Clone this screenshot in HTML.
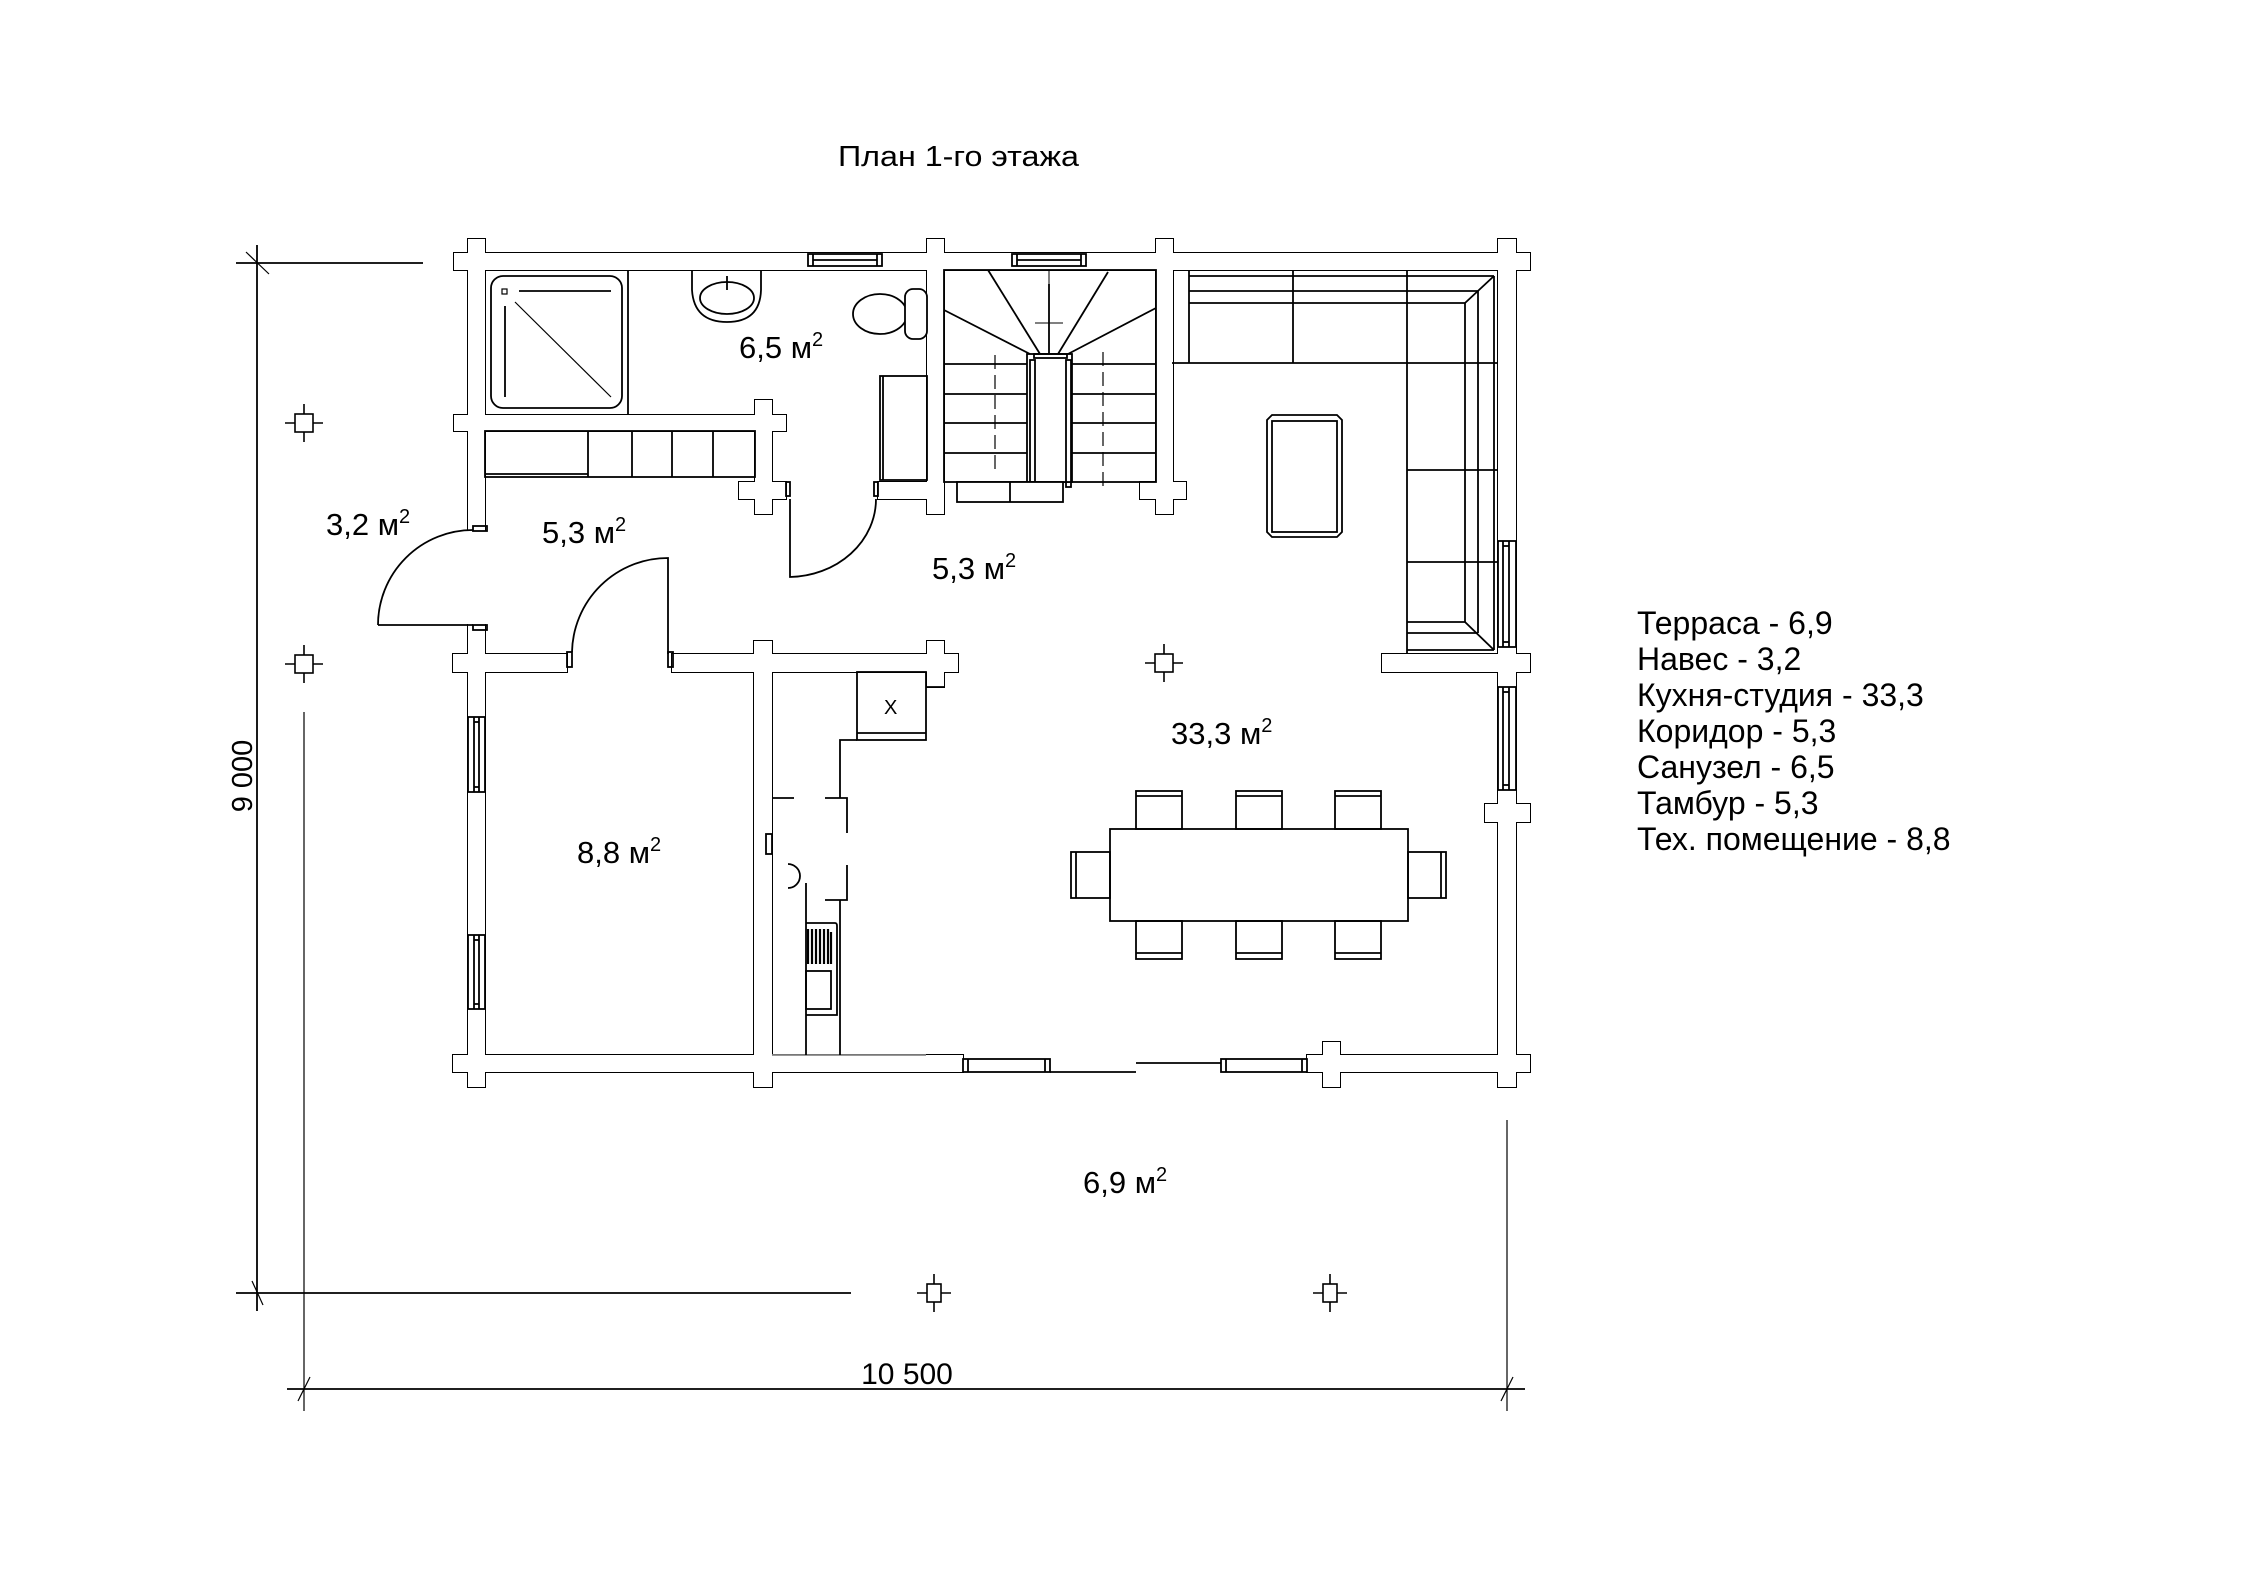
<!DOCTYPE html>
<html><head><meta charset="utf-8"><style>
html,body{margin:0;padding:0;background:#fff;}
svg{display:block;}
text{font-family:"Liberation Sans",sans-serif;fill:#000;}
</style></head><body>
<svg width="2245" height="1587" viewBox="0 0 2245 1587" xmlns="http://www.w3.org/2000/svg">
<rect width="2245" height="1587" fill="#fff"/>
<g id="walls">
<g fill="none" stroke="#000" stroke-width="2">
<rect x="454" y="253" width="1076" height="17"/>
<rect x="468" y="239" width="17" height="848"/>
<rect x="927" y="239" width="17" height="275"/>
<rect x="1156" y="239" width="17" height="275"/>
<rect x="1498" y="239" width="18" height="848"/>
<rect x="454" y="415" width="332" height="16"/>
<rect x="755" y="400" width="17" height="114"/>
<rect x="739" y="482" width="47" height="17"/>
<rect x="878" y="482" width="66" height="17"/>
<rect x="1140" y="482" width="46" height="17"/>
<rect x="453" y="654" width="114" height="18"/>
<rect x="672" y="654" width="286" height="18"/>
<rect x="754" y="641" width="18" height="446"/>
<rect x="927" y="641" width="17" height="46"/>
<rect x="1382" y="654" width="148" height="18"/>
<rect x="1485" y="804" width="45" height="18"/>
<rect x="453" y="1055" width="510" height="17"/>
<rect x="1307" y="1055" width="223" height="17"/>
<rect x="1323" y="1042" width="17" height="45"/>
</g>
<g fill="#fff" stroke="none">
<rect x="454" y="253" width="1076" height="17"/>
<rect x="468" y="239" width="17" height="848"/>
<rect x="927" y="239" width="17" height="275"/>
<rect x="1156" y="239" width="17" height="275"/>
<rect x="1498" y="239" width="18" height="848"/>
<rect x="454" y="415" width="332" height="16"/>
<rect x="755" y="400" width="17" height="114"/>
<rect x="739" y="482" width="47" height="17"/>
<rect x="878" y="482" width="66" height="17"/>
<rect x="1140" y="482" width="46" height="17"/>
<rect x="453" y="654" width="114" height="18"/>
<rect x="672" y="654" width="286" height="18"/>
<rect x="754" y="641" width="18" height="446"/>
<rect x="927" y="641" width="17" height="46"/>
<rect x="1382" y="654" width="148" height="18"/>
<rect x="1485" y="804" width="45" height="18"/>
<rect x="453" y="1055" width="510" height="17"/>
<rect x="1307" y="1055" width="223" height="17"/>
<rect x="1323" y="1042" width="17" height="45"/>
</g>
</g>
<g fill="none" stroke="#000" stroke-width="1.8">
<rect x="466" y="531" width="22" height="93" fill="#fff" stroke="none"/>
<line x1="468" y1="531" x2="468" y2="624" stroke="#fff" stroke-width="4"/>
<rect x="473" y="526" width="14" height="5"/>
<rect x="473" y="625" width="14" height="5"/>
<path d="M378,625 L473,625 M378,625 A95,95 0 0 1 473,530"/>
<rect x="567" y="652" width="5" height="15"/>
<rect x="668" y="652" width="5" height="15"/>
<path d="M668,654 L668,558 A96,96 0 0 0 572,652"/>
<rect x="786" y="482" width="4" height="14"/>
<rect x="874" y="482" width="4" height="14"/>
<path d="M790,499 L790,577 A88,78 0 0 0 876,499"/>
<rect x="808" y="254" width="74" height="12" fill="#fff"/>
<line x1="813" y1="254" x2="813" y2="266"/><line x1="877" y1="254" x2="877" y2="266"/><line x1="813" y1="260" x2="877" y2="260"/>
<rect x="1012" y="254" width="74" height="12" fill="#fff"/>
<line x1="1017" y1="254" x2="1017" y2="266"/><line x1="1081" y1="254" x2="1081" y2="266"/><line x1="1017" y1="260" x2="1081" y2="260"/>
<rect x="468" y="717" width="17" height="75" fill="#fff"/>
<line x1="474" y1="717" x2="474" y2="792"/><line x1="479" y1="717" x2="479" y2="792"/>
<line x1="474" y1="722" x2="479" y2="722"/><line x1="474" y1="787" x2="479" y2="787"/>
<rect x="468" y="935" width="17" height="74" fill="#fff"/>
<line x1="474" y1="935" x2="474" y2="1009"/><line x1="479" y1="935" x2="479" y2="1009"/>
<line x1="474" y1="940" x2="479" y2="940"/><line x1="474" y1="1004" x2="479" y2="1004"/>
<rect x="1498" y="541" width="18" height="106" fill="#fff"/>
<line x1="1503" y1="541" x2="1503" y2="647"/><line x1="1509" y1="541" x2="1509" y2="647"/>
<line x1="1503" y1="546" x2="1509" y2="546"/><line x1="1503" y1="642" x2="1509" y2="642"/>
<rect x="1498" y="687" width="18" height="103" fill="#fff"/>
<line x1="1503" y1="687" x2="1503" y2="790"/><line x1="1509" y1="687" x2="1509" y2="790"/>
<line x1="1503" y1="692" x2="1509" y2="692"/><line x1="1503" y1="785" x2="1509" y2="785"/>
<rect x="963" y="1059" width="87" height="13" fill="#fff"/>
<line x1="968" y1="1059" x2="968" y2="1072"/><line x1="1045" y1="1059" x2="1045" y2="1072"/>
<line x1="1050" y1="1072" x2="1136" y2="1072"/>
<line x1="1136" y1="1063" x2="1221" y2="1063"/>
<rect x="1221" y="1059" width="86" height="13" fill="#fff"/>
<line x1="1226" y1="1059" x2="1226" y2="1072"/><line x1="1302" y1="1059" x2="1302" y2="1072"/>
<line x1="772" y1="1055" x2="926" y2="1055" stroke="#888"/>
<line x1="628" y1="270" x2="628" y2="415"/>
<rect x="491" y="276" width="131" height="132" rx="12"/>
<rect x="502" y="289" width="5" height="5" stroke-width="1.2"/>
<line x1="519" y1="291" x2="611" y2="291"/>
<line x1="505" y1="306" x2="505" y2="397"/>
<line x1="515" y1="302" x2="611" y2="397" stroke-width="1.2"/>
<path d="M692,270 L692,290 Q694,322 727,322 Q760,322 761,290 L761,270"/>
<ellipse cx="727" cy="298" rx="27" ry="16"/>
<line x1="727" y1="276" x2="727" y2="290"/>
<ellipse cx="880" cy="314" rx="27" ry="20"/>
<rect x="905" y="289" width="22" height="50" rx="8" fill="#fff"/>
<rect x="880" y="376" width="47" height="104"/>
<line x1="883" y1="376" x2="883" y2="480"/>
<rect x="485" y="431" width="270" height="46"/>
<line x1="588" y1="431" x2="588" y2="477"/><line x1="632" y1="431" x2="632" y2="477"/>
<line x1="672" y1="431" x2="672" y2="477"/><line x1="713" y1="431" x2="713" y2="477"/>
<line x1="485" y1="474" x2="588" y2="474"/>
<rect x="944" y="270" width="212" height="212"/>
<line x1="944" y1="364" x2="1027" y2="364"/><line x1="944" y1="394" x2="1027" y2="394"/>
<line x1="944" y1="423" x2="1027" y2="423"/><line x1="944" y1="453" x2="1027" y2="453"/>
<line x1="1072" y1="364" x2="1156" y2="364"/><line x1="1072" y1="394" x2="1156" y2="394"/>
<line x1="1072" y1="423" x2="1156" y2="423"/><line x1="1072" y1="453" x2="1156" y2="453"/>
<rect x="1027" y="354" width="45" height="128" fill="#fff"/>
<rect x="1030" y="360" width="5" height="122"/>
<rect x="1066" y="360" width="5" height="127"/>
<rect x="1034" y="354" width="33" height="4"/>
<line x1="1030" y1="354" x2="944" y2="310"/>
<line x1="1040" y1="354" x2="988" y2="270"/>
<line x1="1049" y1="354" x2="1049" y2="284"/>
<line x1="1058" y1="354" x2="1108" y2="272"/>
<line x1="1068" y1="354" x2="1156" y2="308"/>
<line x1="1049" y1="270" x2="1049" y2="354" stroke-width="1"/>
<line x1="1035" y1="323" x2="1063" y2="323" stroke-width="1"/>
<line x1="995" y1="355" x2="995" y2="470" stroke-dasharray="14,6" stroke-width="1.2"/>
<line x1="1103" y1="352" x2="1103" y2="490" stroke-dasharray="14,6" stroke-width="1.2"/>
<rect x="957" y="482" width="106" height="20" fill="#fff"/>
<line x1="1010" y1="482" x2="1010" y2="502"/>
<line x1="1189" y1="270" x2="1189" y2="363"/>
<line x1="1189" y1="276" x2="1494" y2="276"/>
<line x1="1189" y1="291" x2="1478" y2="291"/>
<line x1="1189" y1="303" x2="1465" y2="303"/>
<line x1="1172" y1="363" x2="1498" y2="363"/>
<line x1="1293" y1="270" x2="1293" y2="363"/>
<line x1="1407" y1="270" x2="1407" y2="654"/>
<line x1="1465" y1="303" x2="1465" y2="622"/>
<line x1="1478" y1="291" x2="1478" y2="633"/>
<line x1="1494" y1="276" x2="1494" y2="650"/>
<line x1="1465" y1="303" x2="1494" y2="276"/>
<line x1="1465" y1="622" x2="1494" y2="650"/>
<line x1="1407" y1="470" x2="1498" y2="470"/>
<line x1="1407" y1="562" x2="1498" y2="562"/>
<line x1="1407" y1="622" x2="1465" y2="622"/>
<line x1="1407" y1="633" x2="1478" y2="633"/>
<line x1="1407" y1="650" x2="1494" y2="650"/>
<path d="M1272,415 L1337,415 L1342,420 L1342,532 L1337,537 L1272,537 L1267,532 L1267,420 Z"/>
<rect x="1272" y="421" width="65" height="111"/>
<rect x="857" y="672" width="69" height="68"/>
<line x1="857" y1="733" x2="926" y2="733"/>
<line x1="926" y1="687" x2="944" y2="687"/>
<path d="M857,740 L840,740 L840,798"/>
<line x1="772" y1="798" x2="794" y2="798"/>
<path d="M825,798 L847,798 L847,833"/>
<path d="M847,865 L847,900 L825,900"/>
<line x1="806" y1="883" x2="806" y2="1055"/>
<line x1="840" y1="900" x2="840" y2="1055"/>
<path d="M788,864 A12,12 0 0 1 788,888"/>
<rect x="766" y="834" width="6" height="20" fill="#fff"/>
<path d="M806,923 L835,923 Q837,923 837,926 L837,1015 L806,1015"/>
<rect x="806" y="971" width="25" height="38"/>
<g stroke-width="2.2">
<line x1="808" y1="929" x2="808" y2="964"/><line x1="812" y1="929" x2="812" y2="964"/>
<line x1="816" y1="929" x2="816" y2="964"/><line x1="820" y1="929" x2="820" y2="964"/>
<line x1="824" y1="929" x2="824" y2="964"/><line x1="828" y1="929" x2="828" y2="964"/>
<line x1="831" y1="932" x2="831" y2="964"/>
</g>
<rect x="1110" y="829" width="298" height="92"/>
<rect x="1136" y="791" width="46" height="38"/><line x1="1136" y1="796" x2="1182" y2="796"/>
<rect x="1236" y="791" width="46" height="38"/><line x1="1236" y1="796" x2="1282" y2="796"/>
<rect x="1335" y="791" width="46" height="38"/><line x1="1335" y1="796" x2="1381" y2="796"/>
<rect x="1136" y="921" width="46" height="38"/><line x1="1136" y1="953" x2="1182" y2="953"/>
<rect x="1236" y="921" width="46" height="38"/><line x1="1236" y1="953" x2="1282" y2="953"/>
<rect x="1335" y="921" width="46" height="38"/><line x1="1335" y1="953" x2="1381" y2="953"/>
<rect x="1071" y="852" width="39" height="46"/><line x1="1076" y1="852" x2="1076" y2="898"/>
<rect x="1408" y="852" width="38" height="46"/><line x1="1441" y1="852" x2="1441" y2="898"/>
</g>
<g fill="none" stroke="#000" stroke-width="1.6">
<g transform="translate(304,423)"><rect x="-9" y="-9" width="18" height="18"/><path d="M-19,0H-9M9,0H19M0,-19V-9M0,9V19"/></g>
<g transform="translate(304,664)"><rect x="-9" y="-9" width="18" height="18"/><path d="M-19,0H-9M9,0H19M0,-19V-9M0,9V19"/></g>
<g transform="translate(1164,663)"><rect x="-9" y="-9" width="18" height="18"/><path d="M-19,0H-9M9,0H19M0,-19V-9M0,9V19"/></g>
<g transform="translate(934,1293)"><rect x="-7" y="-9" width="14" height="18"/><path d="M-17,0H-7M7,0H17M0,-19V-9M0,9V19"/></g>
<g transform="translate(1330,1293)"><rect x="-7" y="-9" width="14" height="18"/><path d="M-17,0H-7M7,0H17M0,-19V-9M0,9V19"/></g>
</g>
<g fill="none" stroke="#000" stroke-width="1.8">
<line x1="257" y1="245" x2="257" y2="1311"/>
<line x1="236" y1="263" x2="423" y2="263"/>
<line x1="236" y1="1293" x2="851" y2="1293"/>
<line x1="246" y1="252" x2="269" y2="274" stroke-width="1.2"/>
<line x1="252" y1="1281" x2="263" y2="1305" stroke-width="1.2"/>
<line x1="304" y1="712" x2="304" y2="1411" stroke-width="1.2"/>
<line x1="1507" y1="1120" x2="1507" y2="1411" stroke-width="1.2"/>
<line x1="287" y1="1389" x2="1525" y2="1389"/>
<line x1="298" y1="1401" x2="310" y2="1377" stroke-width="1.2"/>
<line x1="1501" y1="1401" x2="1513" y2="1377" stroke-width="1.2"/>
</g>
<text x="838" y="166" font-size="29" textLength="241" lengthAdjust="spacingAndGlyphs">План 1-го этажа</text>
<text x="326" y="535" font-size="31">3,2 м<tspan font-size="20" dy="-12">2</tspan></text>
<text x="542" y="543" font-size="31">5,3 м<tspan font-size="20" dy="-12">2</tspan></text>
<text x="739" y="358" font-size="31">6,5 м<tspan font-size="20" dy="-12">2</tspan></text>
<text x="932" y="579" font-size="31">5,3 м<tspan font-size="20" dy="-12">2</tspan></text>
<text x="1171" y="744" font-size="31">33,3 м<tspan font-size="20" dy="-12">2</tspan></text>
<text x="577" y="863" font-size="31">8,8 м<tspan font-size="20" dy="-12">2</tspan></text>
<text x="1083" y="1193" font-size="31">6,9 м<tspan font-size="20" dy="-12">2</tspan></text>
<text x="884" y="714" font-size="20">X</text>
<text x="907" y="1384" font-size="30" text-anchor="middle">10 500</text>
<text transform="translate(252,776) rotate(-90)" font-size="29" text-anchor="middle">9 000</text>
<g font-size="32">
<text x="1637" y="634">Терраса - 6,9</text>
<text x="1637" y="670">Навес - 3,2</text>
<text x="1637" y="706">Кухня-студия - 33,3</text>
<text x="1637" y="742">Коридор - 5,3</text>
<text x="1637" y="778">Санузел - 6,5</text>
<text x="1637" y="814">Тамбур - 5,3</text>
<text x="1637" y="850">Тех. помещение - 8,8</text>
</g>
</svg>
</body></html>
